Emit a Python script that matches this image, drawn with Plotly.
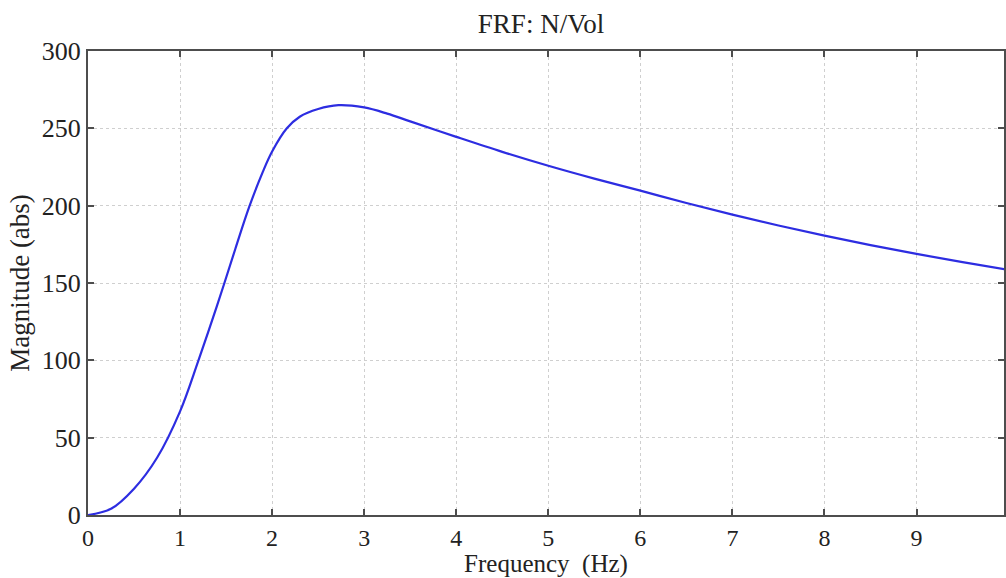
import plotly.graph_objects as go

freq = [0, 0.25, 0.5, 0.75, 1.0, 1.2, 1.4, 1.6, 1.75, 1.9, 2.0, 2.16, 2.3,
        2.5, 2.72, 3.0, 3.25, 3.5, 4.0, 4.5, 5.0, 5.5, 6.0, 6.5, 7.0, 7.5, 8.0,
        8.5, 9.0, 9.5, 10.0]
mag = [0, 4, 17, 37, 67, 100, 135, 172, 199, 222, 235, 250, 257.5,
       262.5, 265, 263.5, 259.5, 254.5, 244.5, 234.8, 225.8, 217.5, 209.7,
       201.7, 194.2, 187.2, 180.6, 174.5, 168.8, 163.5, 158.5]
x_ticks = [0, 1, 2, 3, 4, 5, 6, 7, 8, 9]
y_ticks = [0, 50, 100, 150, 200, 250, 300]

FONT = "Liberation Serif, Times New Roman, serif"
AX = "#4d4d4d"

fig = go.Figure()
fig.add_trace(go.Scatter(x=freq, y=mag, mode="lines",
                         line=dict(color="rgb(45,45,225)", width=2.2, shape="spline", smoothing=1.0),
                         showlegend=False, hoverinfo="skip"))

fig.update_layout(
    width=1006, height=578,
    margin=dict(l=88, r=0, t=51, b=63),
    paper_bgcolor="white", plot_bgcolor="white",
    font=dict(family=FONT, size=27, color="#222"),
    title=dict(text="FRF: N/Vol", x=541/1006, xanchor="center", xref="container",
               y=1-24/578, yref="container", yanchor="middle",
               font=dict(family=FONT, size=27, color="#222")),
)
fig.update_xaxes(
    range=[0, 9.95], tickvals=x_ticks, ticktext=[str(v) for v in x_ticks],
    showline=True, linecolor=AX, linewidth=2, mirror="ticks",
    ticks="inside", ticklen=6, tickcolor=AX, tickwidth=2,
    showgrid=True, gridcolor="#cfcfcf", griddash="dot", gridwidth=1,
    zeroline=False,
    title=dict(text="Frequency\u00a0\u00a0(Hz)", font=dict(family=FONT, size=25), standoff=8),
    tickfont=dict(family=FONT, size=24),
)
fig.update_yaxes(
    range=[0, 300], tickvals=y_ticks, ticktext=[str(v) for v in y_ticks],
    showline=True, linecolor=AX, linewidth=2, mirror="ticks",
    ticks="inside", ticklen=6, tickcolor=AX, tickwidth=2,
    showgrid=True, gridcolor="#cfcfcf", griddash="dot", gridwidth=1,
    zeroline=False,
    title=dict(text="Magnitude (abs)", font=dict(family=FONT, size=27), standoff=4),
    tickfont=dict(family=FONT, size=26),
)

fig.write_html("out.html")
